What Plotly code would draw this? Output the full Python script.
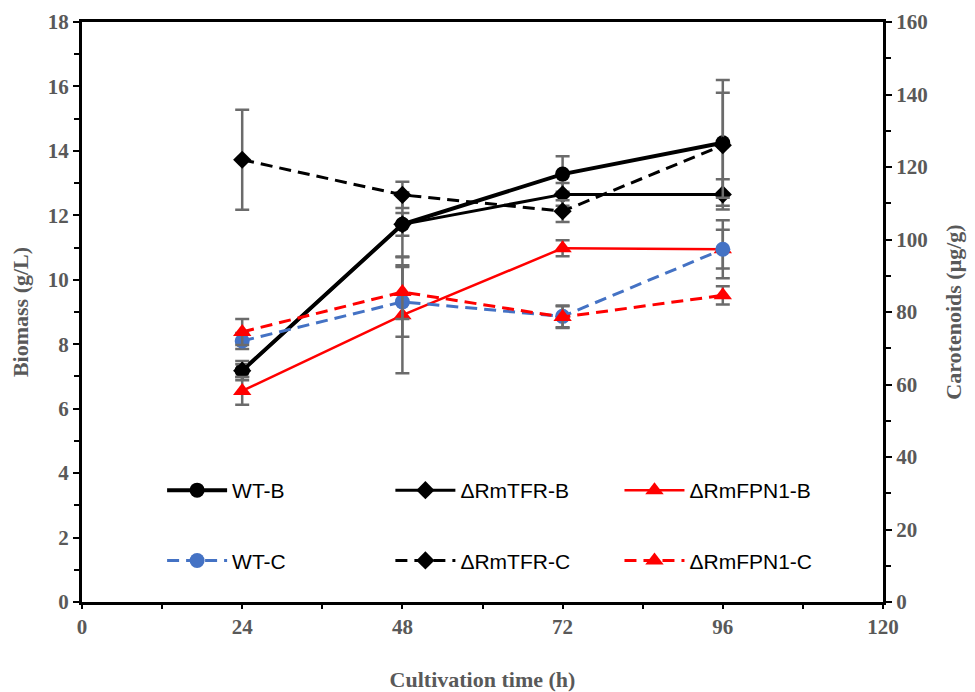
import plotly.graph_objects as go

hours = [24, 48, 72, 96]

# Biomass (g/L) - left axis
wt_b = [7.18, 11.72, 13.28, 14.25]
wt_b_err = [0.30, 0.35, 0.55, 1.95]
tfr_b = [7.18, 11.72, 12.65, 12.65]
tfr_b_err = [0.20, 1.00, 0.35, 0.47]
fpn1_b = [6.55, 8.90, 10.98, 10.95]
fpn1_b_err = [0.43, 1.80, 0.25, 0.60]

# Carotenoids (ug/g) - right axis
wt_c = [72.0, 82.8, 78.8, 97.3]
wt_c_err = [2.2, 9.6, 3.0, 8.0]
tfr_c = [122.0, 112.3, 107.8, 126.0]
tfr_c_err = [13.8, 3.6, 3.0, 14.5]
fpn1_c = [74.5, 85.5, 78.6, 84.6]
fpn1_c_err = [3.6, 7.4, 3.0, 2.5]

x_ticks = [0, 24, 48, 72, 96, 120]

ERR = "#6b6b6b"
BLUE = "#4472C4"
RED = "#FF0000"
TICKFONT = dict(family="Liberation Serif", size=21, color="#595959", weight="bold")
TITLEFONT = dict(family="Liberation Serif", size=22, color="#595959", weight="bold")
DASH = "12px,7px"

def err(vals):
    return dict(type="data", array=vals, visible=True, color=ERR, thickness=2.5, width=7)

fig = go.Figure()

series = [
    ("WT-B", wt_b, wt_b_err, "black", "solid", 4, "circle", 15, "y", "legend", "g1"),
    ("ΔRmTFR-B", tfr_b, tfr_b_err, "black", "solid", 3, "diamond", 14, "y", "legend2", "g3"),
    ("ΔRmFPN1-B", fpn1_b, fpn1_b_err, RED, "solid", 2.5, "triangle-up", 16, "y", "legend3", "g5"),
    ("WT-C", wt_c, wt_c_err, BLUE, DASH, 3, "circle", 15, "y2", "legend", "g2"),
    ("ΔRmTFR-C", tfr_c, tfr_c_err, "black", DASH, 3, "diamond", 14, "y2", "legend2", "g4"),
    ("ΔRmFPN1-C", fpn1_c, fpn1_c_err, RED, DASH, 3, "triangle-up", 16, "y2", "legend3", "g6"),
]

for name, ys, es, col, dash, lw, sym, ms, yax, leg, grp in series:
    fig.add_trace(go.Scatter(
        x=hours, y=ys, name=name, yaxis=yax, legend=leg, legendgroup=grp,
        mode="lines+markers",
        line=dict(color=col, width=lw, dash=dash),
        marker=dict(symbol=sym, size=ms, color=col),
        error_y=err(es),
    ))

legend_common = dict(
    orientation="v", bgcolor="rgba(0,0,0,0)", borderwidth=0,
    font=dict(family="Liberation Sans", size=21, color="black"),
    tracegroupgap=40, itemwidth=60, xanchor="left", yanchor="top", y=0.2276,
)
fig.update_layout(
    width=967, height=684,
    margin=dict(l=74, r=92, t=14, b=90),
    paper_bgcolor="white", plot_bgcolor="white",
    legend=dict(legend_common, x=0.10),
    legend2=dict(legend_common, x=0.385),
    legend3=dict(legend_common, x=0.671),
    xaxis=dict(
        range=[0, 120], tickvals=x_ticks, ticktext=[str(v) for v in x_ticks],
        showline=True, linecolor="black", linewidth=3, mirror=True, automargin=False,
        ticks="outside", ticklen=4, tickwidth=2, tickcolor="black",
        minor=dict(dtick=12, ticks="outside", ticklen=4, tickwidth=2, tickcolor="black"),
        showgrid=False, zeroline=False, tickfont=TICKFONT, ticklabeloverflow="allow",
        title=dict(text="Cultivation time (h)", font=TITLEFONT, standoff=34),
    ),
    yaxis=dict(
        range=[0, 18], dtick=2, showline=True, linecolor="black", linewidth=3, automargin=False,
        ticks="outside", ticklen=6, tickwidth=2, tickcolor="black",
        minor=dict(dtick=1, ticks="outside", ticklen=5, tickwidth=2, tickcolor="black"),
        showgrid=False, zeroline=False, tickfont=TICKFONT, ticklabeloverflow="allow",
        title=dict(text="Biomass (g/L)", font=TITLEFONT, standoff=14),
    ),
    yaxis2=dict(
        range=[0, 160], dtick=20, overlaying="y", side="right", automargin=False,
        showline=True, linecolor="black", linewidth=3,
        ticks="outside", ticklen=6, tickwidth=2, tickcolor="black",
        minor=dict(dtick=10, ticks="outside", ticklen=5, tickwidth=2, tickcolor="black"),
        showgrid=False, zeroline=False, tickfont=TICKFONT, ticklabeloverflow="allow",
        title=dict(text="Carotenoids (μg/g)", font=TITLEFONT, standoff=19),
    ),
)

fig.write_html("out.html")
